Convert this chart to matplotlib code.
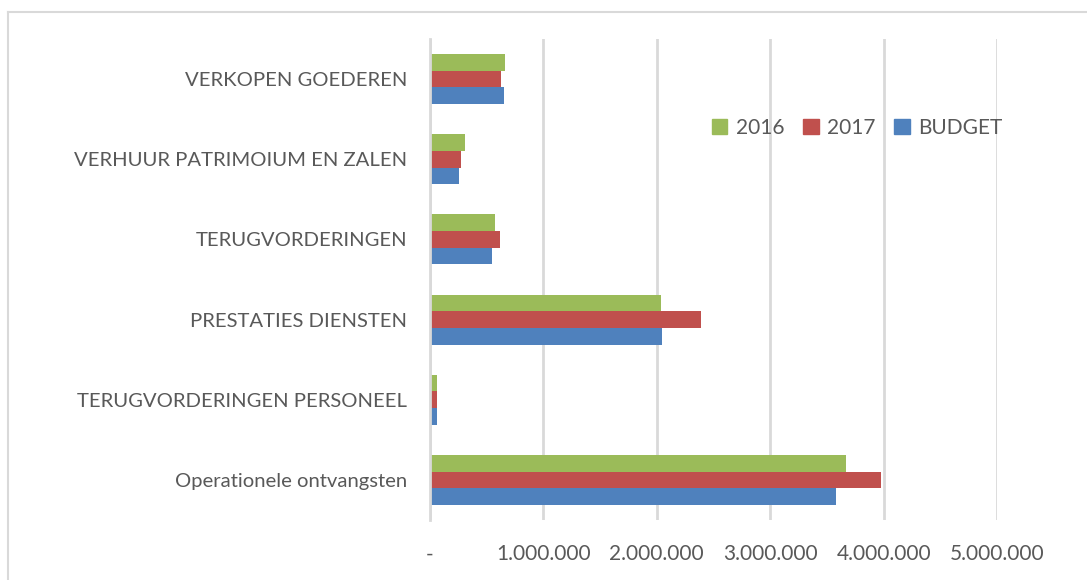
import numpy as np
import matplotlib.pyplot as plt
from matplotlib.lines import Line2D
from matplotlib.ticker import FuncFormatter

categories = ['Operationele ontvangsten', 'TERUGVORDERINGEN PERSONEEL',
              'PRESTATIES DIENSTEN', 'TERUGVORDERINGEN',
              'VERHUUR PATRIMOIUM EN ZALEN', 'VERKOPEN GOEDEREN']
budget = [3580000, 63000, 2050000, 551000, 257000, 652000]
y2017 = [3980000, 60000, 2390000, 619000, 277000, 628000]
y2016 = [3670000, 60000, 2040000, 572000, 312000, 664000]

colors = {'BUDGET': '#4F81BD', '2017': '#C0504D', '2016': '#9BBB59'}
text_col = '#595959'
grid_col = '#D9D9D9'

plt.rcParams['font.family'] = ['Lato', 'DejaVu Sans']

fig = plt.figure(figsize=(10.87, 5.8), dpi=100)
ax = fig.add_axes([430 / 1087, 60 / 580, 567 / 1087, 481 / 580])

y = np.arange(len(categories))
h = 0.208
ax.barh(y - h, budget, h, color=colors['BUDGET'], label='BUDGET')
ax.barh(y, y2017, h, color=colors['2017'], label='2017')
ax.barh(y + h, y2016, h, color=colors['2016'], label='2016')

ax.set_xlim(0, 5000000)
ax.set_ylim(-0.5, 5.5)
ax.set_xticks(np.arange(0, 5000001, 1000000))


def fmt(v, pos):
    if v == 0:
        return '-'
    return f'{int(v):,}'.replace(',', '.')


ax.xaxis.set_major_formatter(FuncFormatter(fmt))
ax.set_yticks(y)
ax.set_yticklabels(categories)
ax.tick_params(axis='both', length=0, colors=text_col)
ax.tick_params(axis='x', pad=17.5, labelsize=15)
ax.tick_params(axis='y', pad=16.5, labelsize=14.6)

ax.grid(axis='x', color=grid_col, linewidth=2)
ax.set_axisbelow(True)
for s in ['top', 'right', 'bottom']:
    ax.spines[s].set_visible(False)
ax.spines['left'].set_color(grid_col)
ax.spines['left'].set_linewidth(2)

handles = [plt.Rectangle((0, 0), 1, 1, color=colors[k]) for k in ['2016', '2017', 'BUDGET']]
fig.legend(handles, ['2016', '2017', 'BUDGET'], loc='center',
           bbox_to_anchor=(857 / 1087, 1 - 128 / 580), ncol=3, frameon=False,
           fontsize=15, labelcolor=text_col, handlelength=0.75, handleheight=0.75,
           handletextpad=0.4, columnspacing=0.9)

# chart border (top and left visible)
fig.add_artist(Line2D([8 / 1087, 1], [1 - 12 / 580, 1 - 12 / 580], color=grid_col,
                      linewidth=1.5, transform=fig.transFigure))
fig.add_artist(Line2D([8 / 1087, 8 / 1087], [0, 1 - 12 / 580], color=grid_col,
                      linewidth=1.5, transform=fig.transFigure))

fig.savefig('out.png', dpi=100)
